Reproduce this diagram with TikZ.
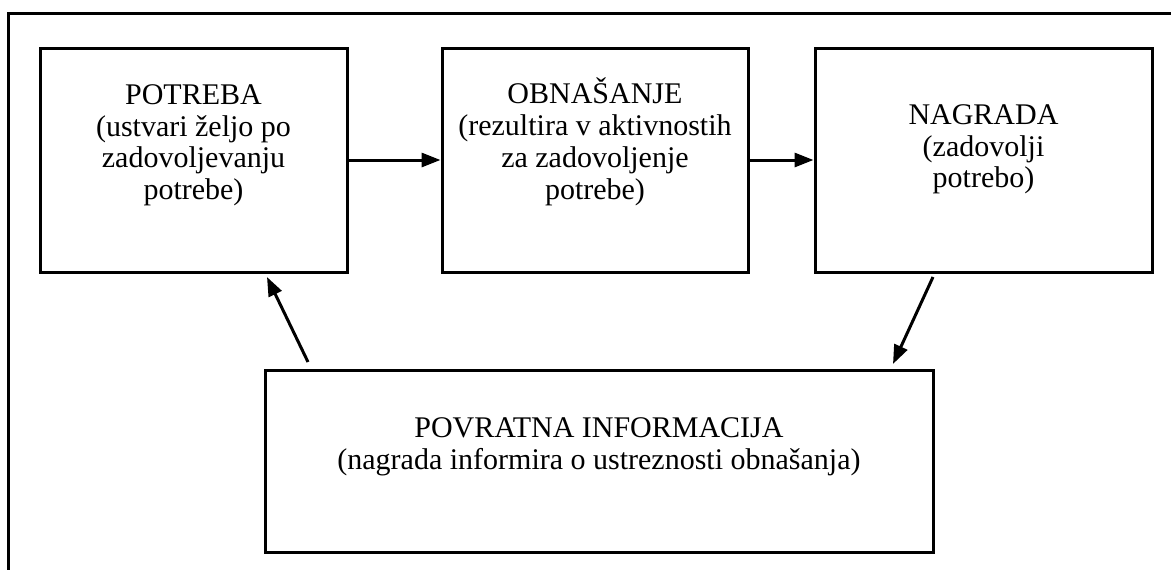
\documentclass[tikz,border=0pt]{standalone}
\usepackage{fontspec}
\setmainfont{Liberation Serif}
\usetikzlibrary{arrows.meta}
\begin{document}
\begin{tikzpicture}[x=1pt,y=-1pt,
  box/.style={draw,line width=3pt,minimum width=#1,inner sep=0pt},
  lbl/.style={align=center,font=\fontsize{30}{31.7}\selectfont,inner sep=0pt,anchor=north},
  arr/.style={line width=3pt,-{Triangle[length=19pt,width=14pt]}}]
\useasboundingbox (0,0) rectangle (1171,570);
\draw[line width=3pt] (8,600) -- (8,13) -- (1200,13);
\node[box=307pt,minimum height=224pt] (potreba) at (193.5,160) {};
\node[box=306pt,minimum height=224pt] (obnasanje) at (595,160) {};
\node[box=337pt,minimum height=224pt] (nagrada) at (983.5,160) {};
\node[box=668pt,minimum height=182pt] (povratna) at (599,461) {};
\node[lbl] (t1) at (193.5,84.5) {POTREBA\\(ustvari željo po\\zadovoljevanju\\potrebe)};
\node[lbl] (t2) at (595,78) {OBNAŠANJE\\(rezultira v aktivnostih\\za zadovoljenje\\potrebe)};
\node[lbl] (t3) at (983.5,104.5) {NAGRADA\\(zadovolji\\potrebo)};
\node[lbl] (t4) at (599,417.5) {POVRATNA INFORMACIJA\\(nagrada informira o ustreznosti obnašanja)};
\draw[arr] (potreba.east) -- (obnasanje.west);
\draw[arr] (obnasanje.east) -- (nagrada.west);
\coordinate (a1) at (933,277);
\coordinate (a2) at (893,364);
\coordinate (b1) at (308,362);
\coordinate (b2) at (267,277);
\draw[arr] (a1) -- (a2);
\draw[arr] (b1) -- (b2);
\end{tikzpicture}
\end{document}
